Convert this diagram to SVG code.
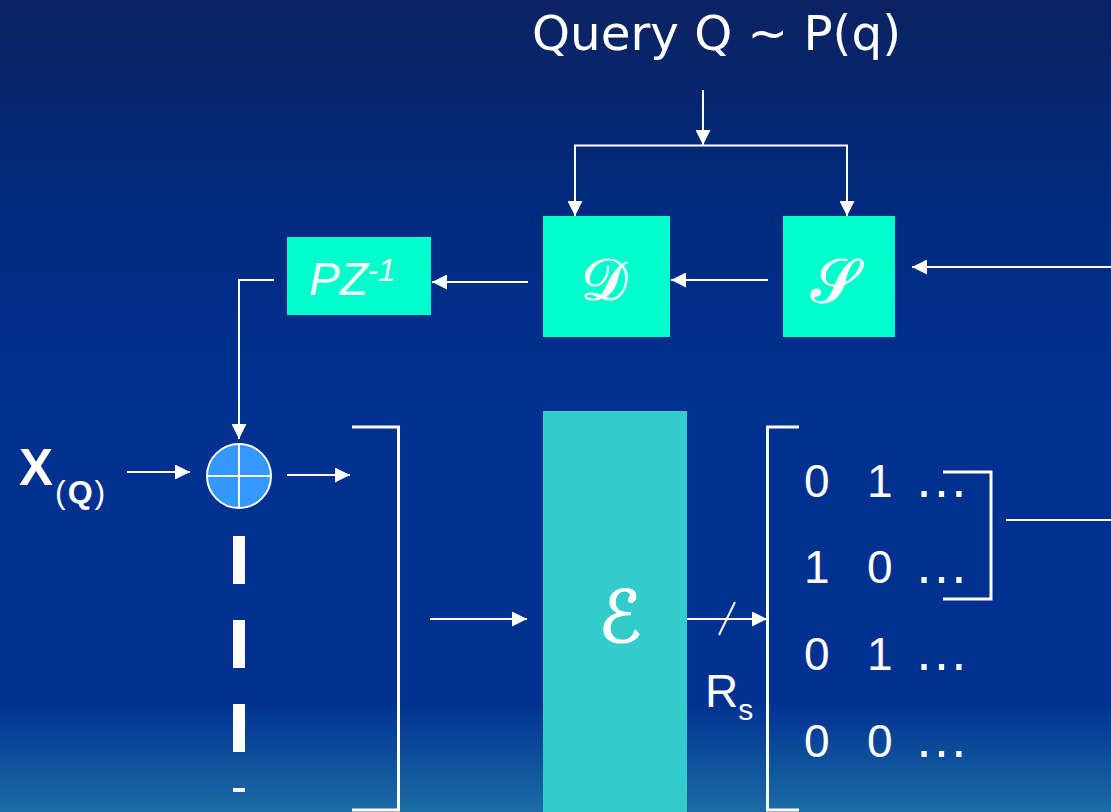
<svg xmlns="http://www.w3.org/2000/svg" width="1111" height="812" viewBox="0 0 1111 812">
  <defs>
    <linearGradient id="bg" x1="0" y1="0" x2="0" y2="1">
      <stop offset="0" stop-color="#0b2262"/>
      <stop offset="0.3" stop-color="#002c82"/>
      <stop offset="0.5" stop-color="#003090"/>
      <stop offset="0.865" stop-color="#003191"/>
      <stop offset="1" stop-color="#1b6ca4"/>
    </linearGradient>
    <marker id="arrow" viewBox="0 0 15 15" refX="15" refY="7.5" markerWidth="15" markerHeight="15" markerUnits="userSpaceOnUse" orient="auto">
      <path d="M0,0 L15,7.5 L0,15 z" fill="#ffffff"/>
    </marker>
    <style>
      .wire { fill: none; stroke: #ffffff; stroke-width: 2; }
      .arr { marker-end: url(#arrow); }
      .brk { fill: none; stroke: #ffffff; stroke-width: 3; }
      .box { fill: #00ffcc; }
      .lbl { fill: #ffffff; font-family: "Liberation Sans", Arial, sans-serif; }
      .script { fill: #ffffff; stroke: #ffffff; stroke-width: 1.2; font-family: "DejaVu Serif", "DejaVu Sans", serif; text-anchor: middle; }
      .num { fill: #ffffff; font-family: "Liberation Sans", Arial, sans-serif; font-size: 46px; }
      .dots { fill: #ffffff; font-family: "Liberation Sans", Arial, sans-serif; font-size: 55px; }
    </style>
  </defs>

  <rect x="0" y="0" width="1111" height="812" fill="url(#bg)"/>

  <!-- title -->
  <text x="532" y="50" fill="#ffffff" font-family="DejaVu Sans, Verdana, sans-serif" font-size="48" textLength="369" lengthAdjust="spacingAndGlyphs">Query Q ~ P(q)</text>

  <!-- connectors -->
  <g id="connectors">
    <line class="wire arr" x1="703" y1="90" x2="703" y2="145"/>
    <polyline class="wire" points="575,146 575,145.5 847,145.5 847,146"/>
    <line class="wire arr" x1="575" y1="145" x2="575" y2="216"/>
    <line class="wire arr" x1="847" y1="145" x2="847" y2="216"/>
    <line class="wire arr" x1="1111" y1="267" x2="912" y2="267"/>
    <line class="wire arr" x1="768" y1="280" x2="671" y2="280"/>
    <line class="wire arr" x1="528" y1="282" x2="432" y2="282"/>
    <polyline class="wire arr" points="274,280 239,280 239,439"/>
    <line class="wire arr" x1="127" y1="472" x2="190" y2="472"/>
    <line class="wire arr" x1="287" y1="475" x2="350" y2="475"/>
    <line x1="239" y1="536" x2="239" y2="792" stroke="#ffffff" stroke-width="12" stroke-dasharray="48 36"/>
    <polyline class="brk" points="352,427 398.5,427 398.5,810 352,810"/>
    <line class="wire arr" x1="430" y1="619" x2="527" y2="619"/>
    <line class="wire arr" x1="687" y1="619" x2="767" y2="619"/>
    <line class="wire" x1="719" y1="635" x2="735" y2="602"/>
    <polyline class="brk" points="799,427 767.5,427 767.5,810 799,810"/>
    <polyline class="brk" points="943,472 991,472 991,599 943,599"/>
    <line class="wire" x1="1006" y1="520" x2="1111" y2="520"/>
  </g>

  <!-- input label -->
  <g id="input">
    <text class="lbl" x="19" y="485" font-size="51" font-weight="bold">X<tspan font-size="32" font-weight="normal" dy="18" dx="2">(</tspan><tspan font-size="32" dx="2">Q</tspan><tspan font-size="32" font-weight="normal" dx="2">)</tspan></text>
  </g>

  <!-- adder -->
  <g id="adder">
    <circle cx="239" cy="476" r="32" fill="#3399ff" stroke="#ffffff" stroke-width="2"/>
    <line x1="207" y1="476" x2="271" y2="476" stroke="#ffffff" stroke-width="2"/>
    <line x1="239" y1="444" x2="239" y2="508" stroke="#ffffff" stroke-width="2"/>
  </g>

  <!-- delay block -->
  <g id="pz">
    <rect class="box" x="287" y="237" width="144" height="78"/>
    <text class="lbl" x="309" y="295" font-size="46" font-style="italic">PZ<tspan font-size="31" dy="-14">-1</tspan></text>
  </g>

  <!-- decoder -->
  <g id="decoder">
    <rect class="box" x="543" y="216" width="127" height="121"/>
    <text class="script" x="604" y="300" font-size="58">𝒟</text>
  </g>

  <!-- selector -->
  <g id="selector">
    <rect class="box" x="783" y="216" width="112" height="121"/>
    <text class="script" x="834" y="302" font-size="61">𝒮</text>
  </g>

  <!-- encoder -->
  <g id="encoder">
    <rect x="543" y="411" width="144" height="401" fill="#33cccc"/>
    <text class="script" x="620" y="642" font-size="72" stroke-width="2">ℰ</text>
  </g>

  <!-- rate label -->
  <g id="rate">
    <text class="lbl" x="705" y="707" font-size="46">R<tspan font-size="30" dy="13">s</tspan></text>
  </g>

  <!-- codeword matrix -->
  <g id="matrix">
    <text class="num" x="804" y="497">0</text><text class="num" x="867" y="497">1</text><text class="dots" x="914" y="497">…</text>
    <text class="num" x="804" y="583">1</text><text class="num" x="867" y="583">0</text><text class="dots" x="914" y="583">…</text>
    <text class="num" x="804" y="670">0</text><text class="num" x="867" y="670">1</text><text class="dots" x="914" y="670">…</text>
    <text class="num" x="804" y="757">0</text><text class="num" x="867" y="757">0</text><text class="dots" x="914" y="757">…</text>
  </g>
</svg>
